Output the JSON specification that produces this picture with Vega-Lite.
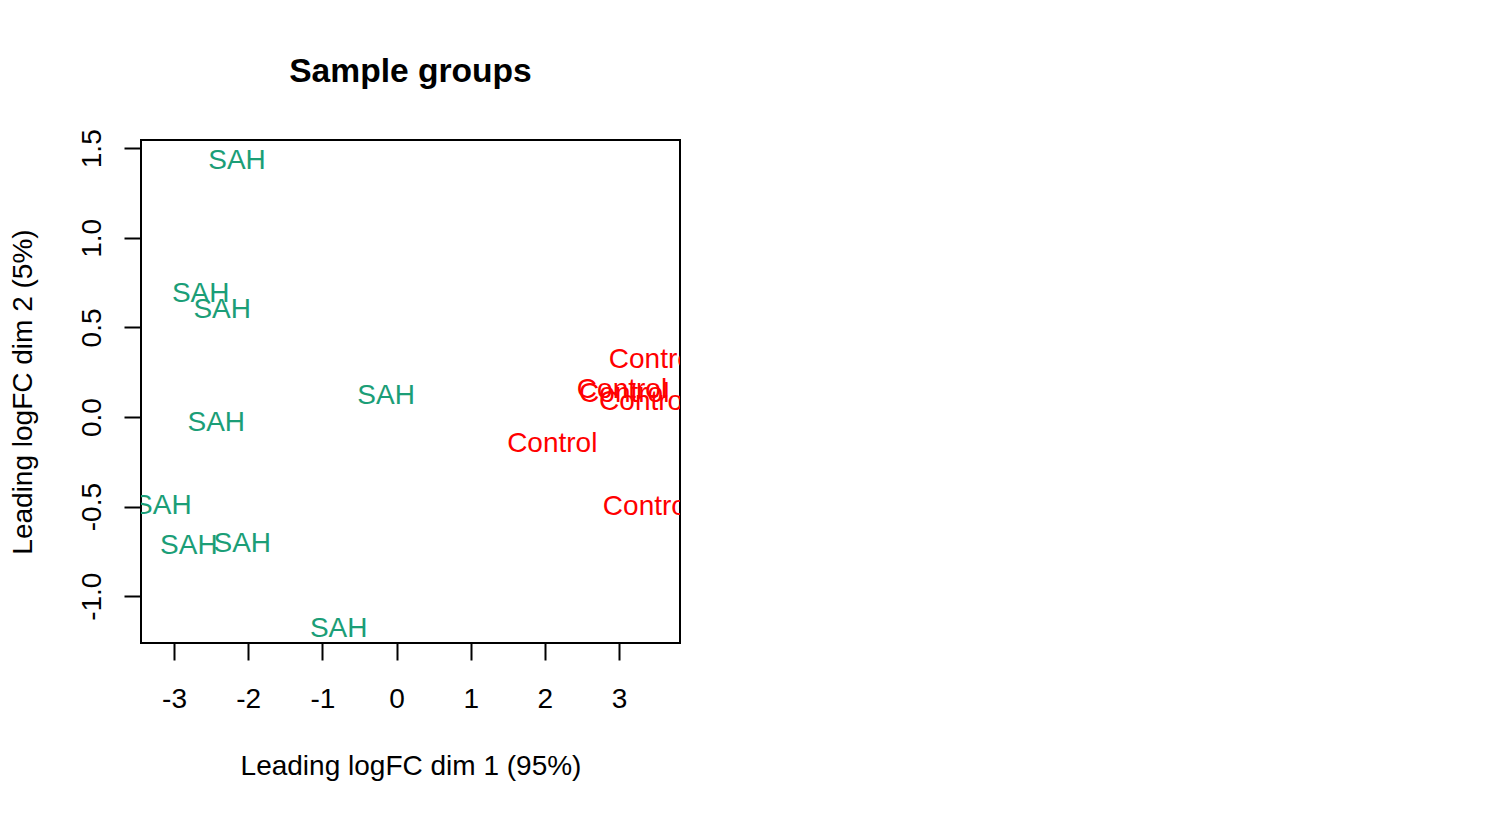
{
  "$schema": "https://vega.github.io/schema/vega-lite/v6.json",
  "autosize": {"type": "none"},
  "padding": {"left": 141, "top": 140, "right": 824, "bottom": 176},
  "width": 539,
  "height": 503,
  "background": "white",
  "title": {
    "text": "Sample groups",
    "font": "Liberation Sans",
    "fontSize": 33.6,
    "fontWeight": "bold",
    "color": "black",
    "anchor": "middle",
    "frame": "group",
    "baseline": "alphabetic",
    "offset": 13
  },
  "config": {"view": {"stroke": "black", "strokeWidth": 2}},
  "data": {
    "values": [
      {"group": "SAH", "dim1": -2.15, "dim2": 1.44},
      {"group": "SAH", "dim1": -2.64, "dim2": 0.70},
      {"group": "SAH", "dim1": -2.35, "dim2": 0.61},
      {"group": "SAH", "dim1": -0.14, "dim2": 0.13},
      {"group": "SAH", "dim1": -2.43, "dim2": -0.02},
      {"group": "SAH", "dim1": -3.15, "dim2": -0.485},
      {"group": "SAH", "dim1": -2.80, "dim2": -0.71},
      {"group": "SAH", "dim1": -2.08, "dim2": -0.70},
      {"group": "SAH", "dim1": -0.78, "dim2": -1.17},
      {"group": "Control", "dim1": 2.10, "dim2": -0.14},
      {"group": "Control", "dim1": 3.04, "dim2": 0.16},
      {"group": "Control", "dim1": 3.07, "dim2": 0.14},
      {"group": "Control", "dim1": 3.34, "dim2": 0.095},
      {"group": "Control", "dim1": 3.47, "dim2": 0.33},
      {"group": "Control", "dim1": 3.39, "dim2": -0.49}
    ]
  },
  "mark": {
    "type": "text",
    "clip": true,
    "font": "Liberation Sans",
    "fontSize": 28,
    "align": "center",
    "baseline": "middle",
    "dy": 2
  },
  "encoding": {
    "x": {
      "field": "dim1",
      "type": "quantitative",
      "scale": {"domain": [-3.445, 3.822], "nice": false, "zero": false},
      "axis": {
        "values": [-3, -2, -1, 0, 1, 2, 3],
        "format": "d",
        "labelExpr": "replace(datum.label, '\u2212', '-')",
        "domain": false,
        "grid": false,
        "tickSize": 17,
        "tickWidth": 2,
        "tickColor": "black",
        "labelFont": "Liberation Sans",
        "labelFontSize": 28,
        "labelColor": "black",
        "labelBaseline": "alphabetic",
        "labelPadding": 47,
        "labelFlush": false,
        "labelOverlap": false,
        "title": "Leading logFC dim 1 (95%)",
        "titleFont": "Liberation Sans",
        "titleFontSize": 28,
        "titleFontWeight": "normal",
        "titleColor": "black",
        "titleBaseline": "alphabetic",
        "titleY": 131
      }
    },
    "y": {
      "field": "dim2",
      "type": "quantitative",
      "scale": {"domain": [-1.261, 1.546], "nice": false, "zero": false},
      "axis": {
        "values": [-1, -0.5, 0, 0.5, 1, 1.5],
        "format": ".1f",
        "labelExpr": "replace(datum.label, '\u2212', '-')",
        "domain": false,
        "grid": false,
        "tickSize": 17,
        "tickWidth": 2,
        "tickColor": "black",
        "labelFont": "Liberation Sans",
        "labelFontSize": 28,
        "labelColor": "black",
        "labelAngle": -90,
        "labelAlign": "center",
        "labelBaseline": "alphabetic",
        "labelPadding": 24,
        "labelFlush": false,
        "labelOverlap": false,
        "title": "Leading logFC dim 2 (5%)",
        "titleFont": "Liberation Sans",
        "titleFontSize": 28,
        "titleFontWeight": "normal",
        "titleColor": "black",
        "titleAngle": -90,
        "titleBaseline": "alphabetic",
        "titleX": -110
      }
    },
    "text": {"field": "group"},
    "color": {
      "field": "group",
      "type": "nominal",
      "scale": {"domain": ["SAH", "Control"], "range": ["#1B9E77", "#FF0000"]},
      "legend": null
    }
  }
}
